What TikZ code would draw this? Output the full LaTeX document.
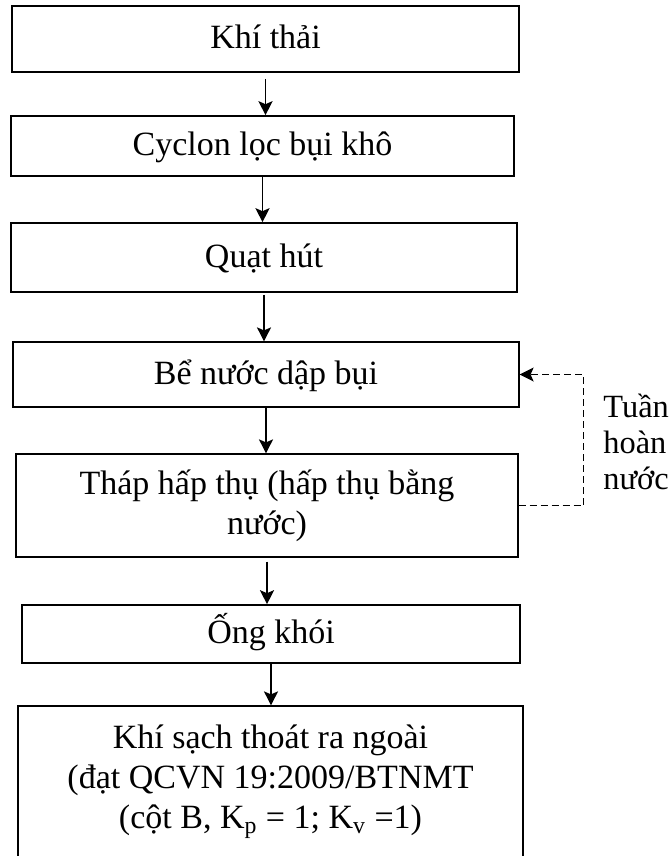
\documentclass[tikz,border=0pt]{standalone}
\usepackage{fontspec}
\setmainfont{Liberation Serif}
\usetikzlibrary{arrows.meta}

\begin{document}
\begin{tikzpicture}[x=0.5pt, y=-0.5pt, >={Stealth[length=7pt, width=7pt, inset=1.5pt]}]
        \tikzstyle{every node}=[draw, align=flush center, inner sep=0pt, font=\fontsize{17}{20}\selectfont]
        \tikzstyle{oneline}=[text height=12.5pt, text depth=3pt]

        \useasboundingbox (0,0) rectangle (672,856);

        \node (1) [oneline, line width=0.9pt, minimum width=253.5pt, minimum height=33pt] at (265.5,39) {Khí thải};
        \node (2) [oneline, line width=0.8pt, minimum width=251.5pt, minimum height=30pt] at (262.5,146) {Cyclon lọc bụi khô};
        \node (3) [oneline, line width=0.8pt, minimum width=253pt, minimum height=34.5pt] at (264,257.5) {Quạt hút};
        \node (4) [oneline, line width=0.6pt, minimum width=253pt, minimum height=32.5pt] at (266,374.5) {Bể nước dập bụi};
        \node (5) [line width=0.6pt, text width=240pt, text height=12.5pt, text depth=23.5pt, minimum width=251pt, minimum height=51.5pt] at (267,505.5) {Tháp hấp thụ (hấp thụ bằng\\nước)};
        \node (6) [oneline, line width=0.8pt, minimum width=249pt, minimum height=29pt] at (271,634) {Ống khói};
        \node (7) [line width=0.6pt, text width=240pt, text height=12.5pt, text depth=57.5pt, minimum width=252.5pt, minimum height=87pt] at (270.5,793) {Khí sạch thoát ra ngoài\\(đạt QCVN 19:2009/BTNMT\\(cột B, K\textsubscript{p} = 1; K\textsubscript{v} =1)};

        \node (4 1) [draw=none, align=flush left, text width=36pt, anchor=base west, font=\fontsize{16.2}{18}\selectfont] at (603,417) {Tuần\\hoàn\\nước};

        \draw[->, line width=0.9pt, shorten <=3pt] (1.south) -- (1.south |- 2.north);
        \draw[->, line width=0.9pt] (2.south) -- (2.south |- 3.north);
        \draw[->, line width=0.9pt, shorten <=1pt] (3.south) -- (3.south |- 4.north);
        \draw[->, line width=0.9pt] (4.south) -- (4.south |- 5.north);
        \draw[->, line width=0.9pt, shorten <=2pt] (5.south) -- (5.south |- 6.north);
        \draw[->, line width=0.9pt] (6.south) -- (6.south |- 7.north);

        \draw[->, dash pattern=on 3.5pt off 2pt, line width=0.7pt] (5.east) -- ++(65,0) |- (4.east);

    \end{tikzpicture}
\end{document}
